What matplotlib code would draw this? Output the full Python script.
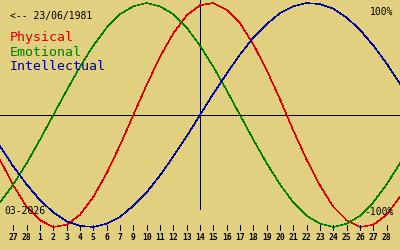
import matplotlib
matplotlib.use("Agg")
import matplotlib.pyplot as plt
import numpy as np

# day offsets around the selected date (14/03/2026), one point per day
days = list(range(-15, 16))

physical = [-0.40, -0.63, -0.82, -0.94, -1.00, -0.98, -0.89, -0.73, -0.52, -0.27,
            0.00, 0.27, 0.52, 0.73, 0.89, 0.98, 1.00, 0.94, 0.82, 0.63,
            0.40, 0.14, -0.14, -0.40, -0.63, -0.82, -0.94, -1.00, -0.98, -0.89, -0.73]
emotional = [-0.78, -0.62, -0.43, -0.22, 0.00, 0.22, 0.43, 0.62, 0.78, 0.90,
             0.97, 1.00, 0.97, 0.90, 0.78, 0.62, 0.43, 0.22, 0.00, -0.22,
             -0.43, -0.62, -0.78, -0.90, -0.97, -1.00, -0.97, -0.90, -0.78, -0.62, -0.43]
intellectual = [-0.28, -0.46, -0.62, -0.76, -0.87, -0.95, -0.99, -1.00, -0.97, -0.91,
                -0.81, -0.69, -0.54, -0.37, -0.19, 0.00, 0.19, 0.37, 0.54, 0.69,
                0.81, 0.91, 0.97, 1.00, 0.99, 0.95, 0.87, 0.76, 0.62, 0.46, 0.28]

tick_days = list(range(-14, 15))
tick_labels = ['27', '28', '1', '2', '3', '4', '5', '6', '7', '9', '10', '11', '12', '13', '14',
               '15', '16', '17', '18', '19', '20', '21', '22', '23', '24', '25', '26', '27', '28']

bg = '#e0d080'
W, H = 400, 250

fig = plt.figure(figsize=(4, 2.5), dpi=100, facecolor=bg)
ax = fig.add_axes([0, 0, 1, 1])
ax.set_facecolor(bg)
for s in ax.spines.values():
    s.set_visible(False)
ax.set_xticks([])
ax.set_yticks([])

# zero line at pixel 115, amplitude 112 px
ax.set_xlim(-15, 15)
ax.set_ylim((115 - H) / 112, 115 / 112)

lw = 0.4
ax.axhline(0, color='black', lw=0.72, antialiased=False)
ax.axvline(0, ymin=1 - 209 / H, ymax=1, color='black', lw=0.72, antialiased=False)

ax.plot(days, physical, color='#e00000', lw=lw, antialiased=False)
ax.plot(days, emotional, color='#008000', lw=lw, antialiased=False)
ax.plot(days, intellectual, color='#0000a0', lw=lw, antialiased=False)

# day ticks along the bottom
trans = ax.get_xaxis_transform()
ax.vlines(tick_days, 1 - 230 / H, 1 - 225 / H, transform=trans, color='black', lw=0.72,
          antialiased=False)
for d, lab in zip(tick_days, tick_labels):
    ax.text(d, 1 - 238 / H, lab, transform=trans, ha='center', va='center',
            fontsize=5.8, fontweight='bold', family='DejaVu Sans Mono')


def ftext(x, y, s, **kw):
    fig.text(x / W, 1 - y / H, s, va='center', family='DejaVu Sans Mono', **kw)


ftext(10, 16, '<-- 23/06/1981', fontsize=7)
ftext(10, 38, 'Physical', fontsize=9.5, color='#e00000')
ftext(10, 53, 'Emotional', fontsize=9.5, color='#008000')
ftext(10, 67, 'Intellectual', fontsize=9.5, color='#0000a0')
ftext(393, 12, '100%', fontsize=7, ha='right')
ftext(394, 212, '-100%', fontsize=7, ha='right')
ftext(4, 211, '03-2026', fontsize=7, ha='left')

fig.savefig('out.png', dpi=100, facecolor=bg)
